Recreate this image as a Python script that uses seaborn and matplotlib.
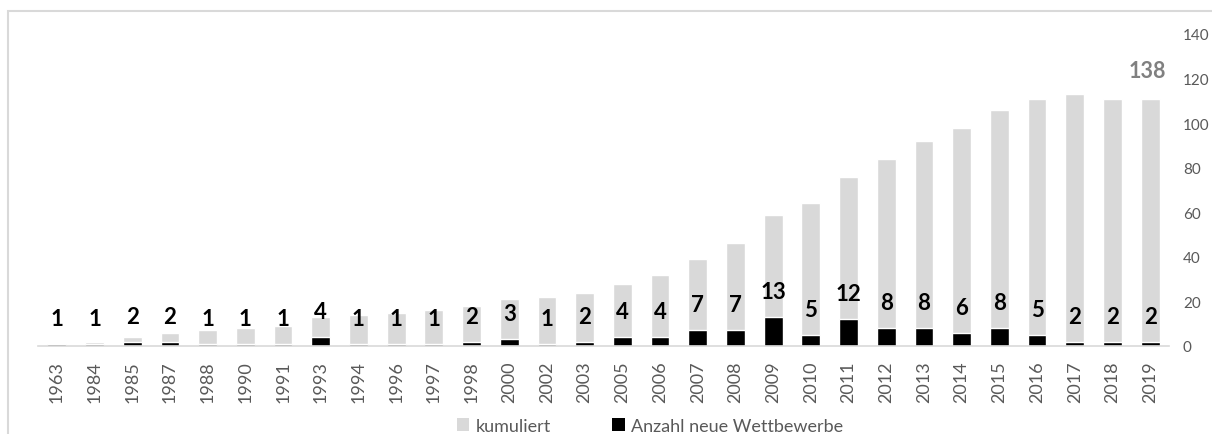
import matplotlib
matplotlib.use("Agg")
import matplotlib.pyplot as plt
from matplotlib.patches import Rectangle, Patch
import seaborn as sns
import pandas as pd

years = ["1963", "1984", "1985", "1987", "1988", "1990", "1991", "1993", "1994", "1996",
         "1997", "1998", "2000", "2002", "2003", "2005", "2006", "2007", "2008", "2009",
         "2010", "2011", "2012", "2013", "2014", "2015", "2016", "2017", "2018", "2019"]
kumuliert = [1, 2, 4, 6, 7, 8, 9, 13, 14, 15,
             16, 18, 21, 22, 24, 28, 32, 39, 46, 59,
             64, 76, 84, 92, 98, 106, 111, 113, 111, 111]
neue = [1, 1, 2, 2, 1, 1, 1, 4, 1, 1,
        1, 2, 3, 1, 2, 4, 4, 7, 7, 13,
        5, 12, 8, 8, 6, 8, 5, 2, 2, 2]
total_label = "138"
y_ticks = [0, 20, 40, 60, 80, 100, 120, 140]
legend_labels = ["kumuliert", "Anzahl neue Wettbewerbe"]

GREY = "#d9d9d9"
TXT = "#595959"

sns.set_theme(style="white")
plt.rcParams["font.family"] = ["Lato", "DejaVu Sans"]

df = pd.DataFrame({"Jahr": years, "kumuliert": kumuliert, "neu": neue})

fig = plt.figure(figsize=(12.12, 4.35), dpi=100)
ax = fig.add_axes([38 / 1212, (435 - 347) / 435, 1131 / 1212, 312 / 435])

sns.barplot(data=df, x="Jahr", y="kumuliert", color=GREY, saturation=1,
            width=0.5, ax=ax, order=years)
sns.barplot(data=df, x="Jahr", y="neu", color="black", saturation=1,
            width=0.5, ax=ax, order=years)

ax.set_xlim(-0.5, len(years) - 0.5)
ax.set_ylim(0, 140)
ax.set_yticks(y_ticks)
ax.yaxis.tick_right()
ax.set_xlabel("")
ax.set_ylabel("")
for s in ["top", "left", "right"]:
    ax.spines[s].set_visible(False)
ax.spines["bottom"].set_color(GREY)
ax.spines["bottom"].set_linewidth(1.2)
ax.tick_params(axis="x", length=0, pad=10.5, labelsize=13, labelcolor=TXT, labelrotation=90)
ax.tick_params(axis="y", length=0, pad=10, labelsize=11, labelcolor=TXT)
ax.grid(False)

for i, v in enumerate(neue):
    ax.annotate(str(v), (i, v), xytext=(0, 13.7), textcoords="offset points",
                ha="center", va="baseline", fontsize=16, fontweight="bold", color="black")

ax.annotate(total_label, (len(years) - 1, kumuliert[-1]), xytext=(-2, 15.8),
            textcoords="offset points", ha="center", va="baseline",
            fontsize=15.5, fontweight="bold", color="#808080")

handles = [Patch(facecolor=GREY, edgecolor="none"), Patch(facecolor="black", edgecolor="none")]
fig.legend(handles, legend_labels, loc="center", bbox_to_anchor=(650 / 1212, 1 - 427 / 435),
           ncol=2, frameon=False, fontsize=13, labelcolor=TXT, handlelength=0.7,
           handleheight=0.7, handletextpad=0.35, columnspacing=3.4, borderpad=0)

fig.add_artist(Rectangle((7.5 / 1212, -0.5), 2, (435 - 11.5) / 435 + 0.5,
                         transform=fig.transFigure, fill=False, ec=GREY, lw=1.5))

fig.savefig("out.png", dpi=100)
